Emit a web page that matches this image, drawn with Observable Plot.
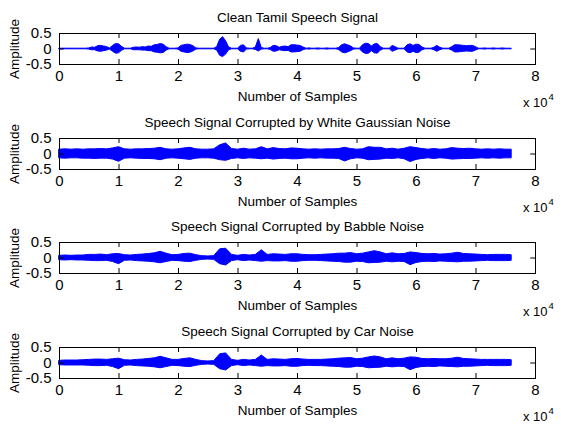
<!DOCTYPE html>
<html><head><meta charset="utf-8">
<script src="https://cdn.jsdelivr.net/npm/d3@7"></script>
<script src="https://cdn.jsdelivr.net/npm/@observablehq/plot@0.6"></script>
<style>
body{margin:0;background:#fff;}
#wrap{position:relative;width:561px;height:426px;overflow:hidden;background:#fff;}
.panel{position:absolute;left:0;}
</style></head><body><div id="wrap"></div>
<script>
const titles = [
  "Clean Tamil Speech Signal",
  "Speech Signal Corrupted by White Gaussian Noise",
  "Speech Signal Corrupted by Babble Noise",
  "Speech Signal Corrupted by Car Noise"
];
const xLabel = "Number of Samples";
const yLabel = "Amplitude";
const xTicks = [0, 10000, 20000, 30000, 40000, 50000, 60000, 70000, 80000];
const yTicks = [-0.5, 0, 0.5];
// sample positions at which the envelopes were read (clean: every 500, noisy: every 1000)
const cleanSamples = d3.range(0, 76500, 500);
const noisySamples = d3.range(0, 77000, 1000);

// envelope (upper / lower) of each waveform
const cleanHi = [0.01,0.01,0.01,0.01,0.01,0.01,0.01,0.01,0.01,0.01,
  0.02,0.05,0.04,0.09,0.1,0.08,0.06,0.02,0.1,0.16,0.15,0.07,
  0.01,0.01,0.01,
  0.04,0.05,0.04,0.06,0.05,0.08,0.07,0.12,0.13,0.16,0.14,0.06,
  0.01,0.01,0.01,
  0.02,0.1,0.12,0.14,0.13,0.09,0.02,
  0.01,0.01,0.01,0.01,0.01,0.01,
  0.06,0.3,0.38,0.25,0.05,
  0.01,0.01,0.01,
  0.1,0.12,0.02,
  0.01,0.01,
  0.05,0.32,0.03,
  0.01,0.01,
  0.03,0.1,0.09,0.04,0.07,0.08,0.06,0.12,0.12,0.11,0.1,0.05,
  0.01,0.02,0.01,0.01,0.02,0.01,0.01,0.02,0.01,0.01,0.01,
  0.03,0.12,0.15,0.12,0.08,0.02,
  0.01,0.01,
  0.12,0.17,0.16,0.08,0.15,0.16,0.06,
  0.01,0.01,0.01,
  0.1,0.06,
  0.01,0.01,0.01,
  0.12,0.15,0.1,0.14,0.13,0.05,
  0.01,0.01,0.01,
  0.04,0.1,0.04,
  0.01,0.01,0.01,
  0.06,0.12,0.12,0.11,0.1,0.09,0.1,0.1,0.06,
  0.01,0.01,0.02,0.01,0.01,0.02,0.01,0.01,0.02,0.01,0.01,0.01];
const cleanLo = [-0.01,-0.01,-0.01,-0.01,-0.01,-0.01,-0.01,-0.01,-0.01,-0.01,
  -0.02,-0.04,-0.04,-0.08,-0.09,-0.07,-0.05,-0.02,-0.09,-0.15,-0.14,-0.06,
  -0.01,-0.01,-0.01,
  -0.04,-0.04,-0.04,-0.05,-0.05,-0.07,-0.07,-0.11,-0.12,-0.14,-0.13,-0.05,
  -0.01,-0.01,-0.01,
  -0.02,-0.09,-0.11,-0.13,-0.12,-0.08,-0.02,
  -0.01,-0.01,-0.01,-0.01,-0.01,-0.01,
  -0.05,-0.22,-0.26,-0.18,-0.04,
  -0.01,-0.01,-0.01,
  -0.09,-0.11,-0.02,
  -0.01,-0.01,
  -0.03,-0.08,-0.02,
  -0.01,-0.01,
  -0.03,-0.09,-0.08,-0.04,-0.06,-0.07,-0.06,-0.11,-0.11,-0.1,-0.09,-0.04,
  -0.01,-0.02,-0.01,-0.01,-0.02,-0.01,-0.01,-0.02,-0.01,-0.01,-0.01,
  -0.03,-0.11,-0.14,-0.11,-0.07,-0.02,
  -0.01,-0.01,
  -0.11,-0.16,-0.15,-0.07,-0.14,-0.15,-0.05,
  -0.01,-0.01,-0.01,
  -0.09,-0.05,
  -0.01,-0.01,-0.01,
  -0.11,-0.14,-0.09,-0.13,-0.12,-0.04,
  -0.01,-0.01,-0.01,
  -0.04,-0.09,-0.04,
  -0.01,-0.01,-0.01,
  -0.05,-0.11,-0.11,-0.1,-0.09,-0.08,-0.09,-0.09,-0.05,
  -0.01,-0.01,-0.02,-0.01,-0.01,-0.02,-0.01,-0.01,-0.02,-0.01,-0.01,-0.01];

const whiteHi = [0.14,0.15,0.14,0.15,0.14,0.15,0.15,0.16,0.15,0.18,0.22,0.15,0.14,0.15,0.15,0.16,0.17,0.2,0.15,0.14,
  0.15,0.18,0.2,0.15,0.14,0.14,0.15,0.28,0.34,0.16,0.14,0.17,0.14,0.15,0.22,0.15,0.19,0.16,0.15,0.18,
  0.17,0.15,0.14,0.15,0.14,0.15,0.15,0.16,0.2,0.16,0.14,0.15,0.22,0.2,0.2,0.15,0.17,0.14,0.17,0.22,
  0.19,0.16,0.14,0.16,0.14,0.15,0.19,0.17,0.16,0.17,0.15,0.14,0.15,0.14,0.15,0.14,0.14];
const whiteLo = [-0.14,-0.15,-0.14,-0.14,-0.15,-0.15,-0.16,-0.15,-0.15,-0.18,-0.25,-0.15,-0.14,-0.15,-0.16,-0.16,-0.17,-0.2,-0.15,-0.14,
  -0.15,-0.17,-0.19,-0.15,-0.14,-0.14,-0.15,-0.2,-0.22,-0.16,-0.14,-0.16,-0.14,-0.15,-0.17,-0.15,-0.18,-0.16,-0.15,-0.17,
  -0.17,-0.15,-0.14,-0.15,-0.14,-0.15,-0.15,-0.16,-0.24,-0.17,-0.14,-0.15,-0.2,-0.19,-0.18,-0.15,-0.16,-0.14,-0.17,-0.26,
  -0.19,-0.16,-0.14,-0.16,-0.14,-0.15,-0.18,-0.17,-0.16,-0.16,-0.15,-0.14,-0.15,-0.14,-0.15,-0.14,-0.14];

const babbleHi = [0.07,0.08,0.07,0.08,0.08,0.1,0.1,0.11,0.09,0.12,0.13,0.09,0.08,0.1,0.11,0.13,0.15,0.2,0.14,0.09,
  0.1,0.13,0.14,0.09,0.06,0.05,0.06,0.28,0.3,0.1,0.07,0.1,0.08,0.1,0.25,0.1,0.12,0.11,0.1,0.12,
  0.12,0.1,0.09,0.09,0.1,0.11,0.12,0.14,0.14,0.16,0.12,0.14,0.18,0.22,0.18,0.12,0.15,0.12,0.13,0.18,
  0.16,0.13,0.12,0.13,0.11,0.12,0.14,0.17,0.13,0.12,0.11,0.1,0.09,0.1,0.1,0.1,0.09];
const babbleLo = [-0.07,-0.08,-0.07,-0.08,-0.08,-0.09,-0.1,-0.1,-0.09,-0.13,-0.2,-0.09,-0.08,-0.1,-0.11,-0.12,-0.14,-0.17,-0.13,-0.09,
  -0.1,-0.12,-0.13,-0.09,-0.06,-0.05,-0.06,-0.2,-0.24,-0.1,-0.07,-0.1,-0.08,-0.1,-0.12,-0.1,-0.11,-0.11,-0.1,-0.12,
  -0.12,-0.1,-0.09,-0.09,-0.1,-0.11,-0.12,-0.13,-0.15,-0.15,-0.12,-0.13,-0.17,-0.16,-0.15,-0.12,-0.14,-0.12,-0.13,-0.23,
  -0.16,-0.13,-0.12,-0.13,-0.11,-0.12,-0.13,-0.14,-0.12,-0.12,-0.11,-0.1,-0.09,-0.1,-0.1,-0.1,-0.09];

const carHi = [0.07,0.08,0.08,0.08,0.09,0.1,0.11,0.11,0.1,0.12,0.14,0.09,0.08,0.1,0.11,0.13,0.15,0.2,0.15,0.1,
  0.1,0.13,0.15,0.1,0.06,0.05,0.06,0.28,0.31,0.1,0.07,0.1,0.08,0.1,0.24,0.1,0.12,0.11,0.1,0.12,
  0.13,0.11,0.1,0.1,0.1,0.11,0.12,0.14,0.15,0.16,0.12,0.14,0.18,0.21,0.18,0.12,0.15,0.12,0.14,0.18,
  0.17,0.13,0.12,0.13,0.12,0.12,0.14,0.17,0.13,0.12,0.11,0.1,0.1,0.1,0.1,0.1,0.09];
const carLo = [-0.07,-0.08,-0.08,-0.08,-0.08,-0.09,-0.1,-0.1,-0.09,-0.13,-0.2,-0.09,-0.08,-0.1,-0.11,-0.12,-0.14,-0.17,-0.13,-0.09,
  -0.1,-0.12,-0.13,-0.09,-0.06,-0.05,-0.06,-0.2,-0.24,-0.1,-0.07,-0.1,-0.08,-0.1,-0.12,-0.1,-0.11,-0.11,-0.1,-0.12,
  -0.12,-0.1,-0.09,-0.1,-0.1,-0.11,-0.12,-0.13,-0.15,-0.15,-0.12,-0.13,-0.17,-0.16,-0.15,-0.12,-0.14,-0.12,-0.13,-0.23,
  -0.16,-0.13,-0.12,-0.13,-0.11,-0.12,-0.13,-0.14,-0.12,-0.12,-0.11,-0.1,-0.09,-0.1,-0.1,-0.1,-0.09];

const panels = [
  {title: titles[0], samples: cleanSamples, hi: cleanHi, lo: cleanLo},
  {title: titles[1], samples: noisySamples, hi: whiteHi, lo: whiteLo},
  {title: titles[2], samples: noisySamples, hi: babbleHi, lo: babbleLo},
  {title: titles[3], samples: noisySamples, hi: carHi, lo: carLo}
];
const tops = [-1, 104, 208, 313];
const font = "'Liberation Sans', Arial, Helvetica, sans-serif";
const wrap = document.getElementById("wrap");

panels.forEach((p, k) => {
  const data = p.samples.map((s, i) => ({s, hi: p.hi[i], lo: p.lo[i]}));
  const chart = Plot.plot({
    width: 561, height: 115,
    marginLeft: 59, marginRight: 26, marginTop: 34, marginBottom: 50,
    style: {background: "transparent", overflow: "visible", fontFamily: font, fontSize: "15px", color: "black"},
    x: {domain: [0, 80000], ticks: xTicks, tickFormat: d => String(d / 10000), tickSize: 0, tickPadding: 6, label: null},
    y: {domain: [-0.5, 0.5], ticks: yTicks, tickFormat: d => String(d), tickSize: 0, tickPadding: 8, label: null},
    marks: [
      Plot.areaY(data, {x: "s", y1: "lo", y2: "hi", fill: "#0000ff", stroke: "#0000ff", strokeWidth: 1}),
      Plot.frame({stroke: "black"}),
      Plot.ruleX(xTicks, {x: d => d, y1: -0.5, y2: -0.34, stroke: "black"}),
      Plot.ruleX(xTicks, {x: d => d, y1: 0.5, y2: 0.34, stroke: "black"}),
      Plot.ruleY(yTicks, {y: d => d, x1: 0, x2: 800, stroke: "black"}),
      Plot.ruleY(yTicks, {y: d => d, x1: 80000, x2: 79200, stroke: "black"}),
      Plot.text([p.title], {text: d => d, frameAnchor: "top", lineAnchor: "middle", dy: -16, fontSize: 13.5, fill: "black"}),
      Plot.text([xLabel], {text: d => d, frameAnchor: "bottom", lineAnchor: "middle", dy: 32, fontSize: 13.5, fill: "black"}),
      Plot.text([yLabel], {text: d => d, frameAnchor: "left", textAnchor: "middle", lineAnchor: "middle", dx: -45, rotate: -90, fontSize: 13.5, fill: "black"}),
      Plot.text(["x 10"], {text: d => d, frameAnchor: "bottom-right", lineAnchor: "middle", dx: 12, dy: 38, textAnchor: "end", fontSize: 13, fill: "black"}),
      Plot.text(["4"], {text: d => d, frameAnchor: "bottom-right", lineAnchor: "middle", dx: 13, dy: 32, textAnchor: "start", fontSize: 9.5, fill: "black"})
    ]
  });
  const div = document.createElement("div");
  div.className = "panel";
  div.style.top = tops[k] + "px";
  div.appendChild(chart);
  wrap.appendChild(div);
});
</script>
</body></html>
